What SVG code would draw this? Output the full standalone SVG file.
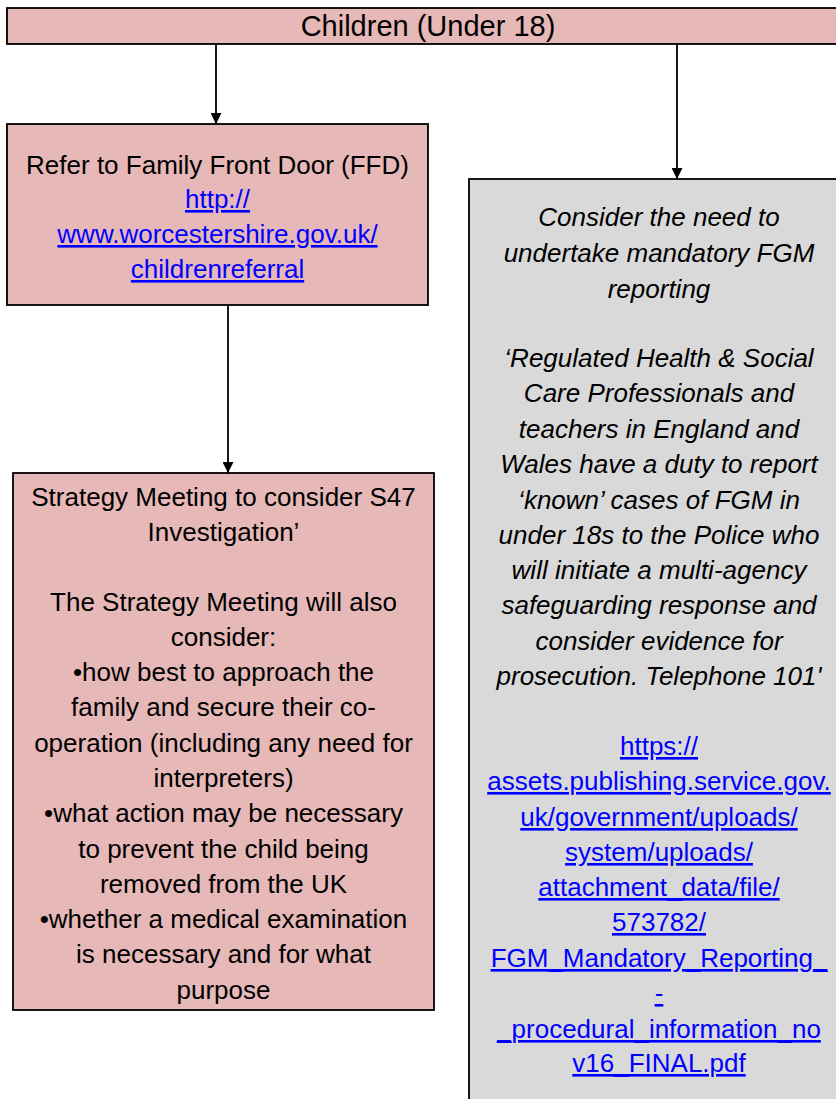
<svg xmlns="http://www.w3.org/2000/svg" width="836" height="1099" viewBox="0 0 836 1099">
<defs>
<marker id="arr" viewBox="0 0 10 10" refX="10" refY="5" markerWidth="12" markerHeight="11" markerUnits="userSpaceOnUse" orient="auto">
<path d="M0,0 L10,5 L0,10 z" fill="#000"/>
</marker>
<style>
.box{stroke:#000;stroke-width:1.8}
.pink{fill:#e6b8b7}
.grey{fill:#d9d9d9}
text{font-family:"Liberation Sans",Arial,sans-serif;font-size:26px;fill:#000;text-anchor:middle}
.big{font-size:29px}
.it{font-style:italic}
.lnk{fill:#0000ff;text-decoration:underline}
.con{stroke:#000;stroke-width:1.8;fill:none;marker-end:url(#arr)}
</style>
</defs>
<rect width="836" height="1099" fill="#fff"/>
<g id="connectors">
<line class="con" x1="216" y1="44" x2="216" y2="124"/>
<line class="con" x1="677" y1="44" x2="677" y2="179"/>
<line class="con" x1="228" y1="305" x2="228" y2="473"/>
</g>
<g id="children">
<rect class="box pink" x="7" y="8" width="842" height="36"/>
<text class="big" x="428" y="36">Children (Under 18)</text>
</g>
<g id="ffd">
<rect class="box pink" x="7" y="124" width="421" height="181"/>
<text x="217.5" y="174">Refer to Family Front Door (FFD)</text>
<text class="lnk" x="217.5" y="208">http://</text>
<text class="lnk" x="217.5" y="243">www.worcestershire.gov.uk/</text>
<text class="lnk" x="217.5" y="278">childrenreferral</text>
</g>
<g id="strategy">
<rect class="box pink" x="13" y="473" width="421" height="537"/>
<text x="223.5" y="506">Strategy Meeting to consider S47</text>
<text x="223.5" y="541">Investigation’</text>
<text x="223.5" y="611">The Strategy Meeting will also</text>
<text x="223.5" y="646">consider:</text>
<text x="223.5" y="681">•how best to approach the</text>
<text x="223.5" y="716">family and secure their co-</text>
<text x="223.5" y="752">operation (including any need for</text>
<text x="223.5" y="787">interpreters)</text>
<text x="223.5" y="822">•what action may be necessary</text>
<text x="223.5" y="858">to prevent the child being</text>
<text x="223.5" y="893">removed from the UK</text>
<text x="223.5" y="928">•whether a medical examination</text>
<text x="223.5" y="963">is necessary and for what</text>
<text x="223.5" y="999">purpose</text>
</g>
<g id="fgm">
<rect class="box grey" x="469" y="179" width="380" height="940"/>
<text class="it" x="659" y="226">Consider the need to</text>
<text class="it" x="659" y="262">undertake mandatory FGM</text>
<text class="it" x="659" y="298">reporting</text>
<text class="it" x="659" y="367">‘Regulated Health &amp; Social</text>
<text class="it" x="659" y="402">Care Professionals and</text>
<text class="it" x="659" y="438">teachers in England and</text>
<text class="it" x="659" y="473">Wales have a duty to report</text>
<text class="it" x="659" y="509">‘known’ cases of FGM in</text>
<text class="it" x="659" y="544">under 18s to the Police who</text>
<text class="it" x="659" y="579">will initiate a multi-agency</text>
<text class="it" x="659" y="614">safeguarding response and</text>
<text class="it" x="659" y="650">consider evidence for</text>
<text class="it" x="659" y="685">prosecution. Telephone 101'</text>
<text class="lnk" x="659" y="755">https://</text>
<text class="lnk" x="659" y="790">assets.publishing.service.gov.</text>
<text class="lnk" x="659" y="826">uk/government/uploads/</text>
<text class="lnk" x="659" y="861">system/uploads/</text>
<text class="lnk" x="659" y="896">attachment_data/file/</text>
<text class="lnk" x="659" y="931">573782/</text>
<text class="lnk" x="659" y="967">FGM_Mandatory_Reporting_</text>
<text class="lnk" x="659" y="1002">-</text>
<text class="lnk" x="659" y="1038">_procedural_information_no</text>
<text class="lnk" x="659" y="1072">v16_FINAL.pdf</text>
</g>
</svg>
